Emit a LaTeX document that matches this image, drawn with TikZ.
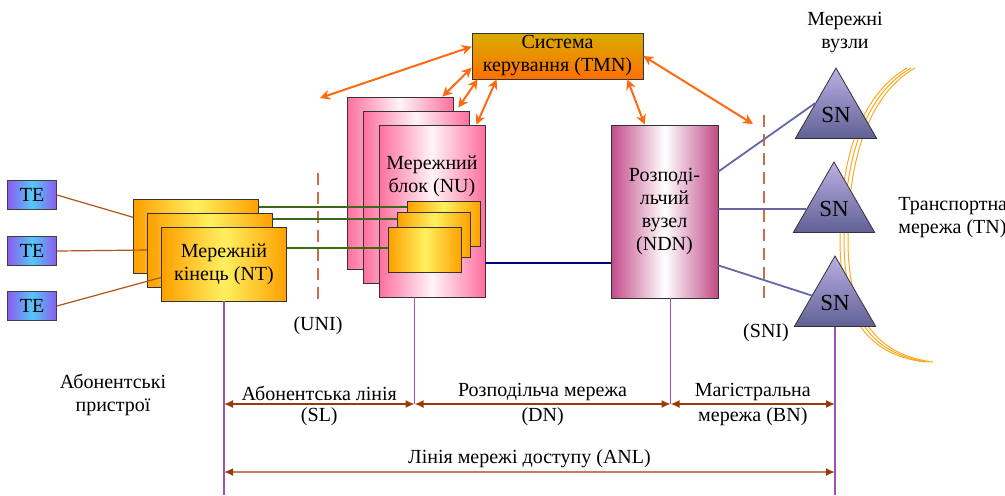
\documentclass[tikz,border=0pt]{standalone}
\usepackage{fontspec}
\setmainfont{Liberation Serif}
\usetikzlibrary{positioning,arrows.meta,calc,shapes.geometric}
\definecolor{tepurple}{HTML}{8B5CF0}
\definecolor{teblue}{HTML}{55C8F8}
\definecolor{ntorange}{HTML}{FFA000}
\definecolor{ntyellow}{HTML}{FFF060}
\definecolor{nupink}{HTML}{FF6FA0}
\definecolor{nulight}{HTML}{FFF4F8}
\definecolor{ndnmag}{HTML}{C24A88}
\definecolor{tmntop}{HTML}{D8AC00}
\definecolor{tmnbot}{HTML}{FF7000}
\definecolor{ctlorange}{HTML}{FF6A10}
\definecolor{snlight}{HTML}{BCB0E4}
\definecolor{sndark}{HTML}{606094}
\definecolor{snline}{HTML}{6666A4}
\definecolor{telink}{HTML}{B0541E}
\definecolor{ntlink}{HTML}{3C6A14}
\definecolor{vline}{HTML}{A050B4}
\definecolor{dimbrown}{HTML}{9A3A08}
\definecolor{anlbrown}{HTML}{C08060}
\definecolor{ifdash}{HTML}{C8704A}
\definecolor{tnorange}{HTML}{FFA820}

\begin{document}
\begin{tikzpicture}[x=0.5pt, y=-0.5pt,
  font=\rmfamily\fontsize{10}{11.5}\selectfont,
  te/.style={draw=black!75, left color=tepurple, right color=tepurple, middle color=teblue, minimum width=24.5pt, minimum height=14.5pt, inner sep=0pt},
  ntbox/.style={draw=black!80, left color=ntorange, right color=ntorange, middle color=ntyellow, minimum width=62.5pt, minimum height=37pt, inner sep=1pt, align=center},
  nubox/.style={draw=black!80, left color=nupink, right color=nupink, middle color=nulight, minimum width=53pt, minimum height=86pt, inner sep=1pt},
  card/.style={draw=black!80, left color=ntorange, right color=ntorange, middle color=ntyellow, minimum width=36.5pt, minimum height=22.5pt, inner sep=0pt},
  ndnbox/.style={draw=black!80, left color=ndnmag, right color=ndnmag, middle color=white, minimum width=53.5pt, minimum height=86.5pt, align=center},
  tmnbox/.style={draw=black!80, top color=tmntop, bottom color=tmnbot, minimum width=85.5pt, minimum height=23pt, inner sep=0pt, align=center},
  snode/.style={regular polygon, regular polygon sides=3, draw=black!80, top color=snlight, bottom color=sndark, minimum size=47pt, inner sep=0pt, font=\rmfamily\fontsize{11.5}{12}\selectfont},
  ctl/.style={{Stealth[length=5pt,width=5pt]}-{Stealth[length=5pt,width=5pt]}, ctlorange, line width=1pt},
  iface/.style={ifdash, line width=0.6pt, dash pattern=on 6pt off 3.5pt},
  dim/.style={{Latex[length=4.5pt,width=4pt]}-{Latex[length=4.5pt,width=4pt]}, dimbrown, line width=0.75pt},
  lbl/.style={inner sep=1.5pt, align=center, text=black}]
  \useasboundingbox (0,0) rectangle (1005,495);
  % transport network arcs
  \foreach \dx in {0pt,2pt,4pt}
    \draw[tnorange, line width=0.5pt, xshift=\dx] (907,68) .. controls (860,95) and (840,160) .. (840,240) .. controls (840,320) and (870,355) .. (925,362);
  % terminals
  \node[te] (te1) at (32,195) {TE};
  \node[te] (te2) at (32,251) {TE};
  \node[te] (te3) at (32,306) {TE};
  % network terminations
  \node[ntbox] (nt1) at (196,236) {};
  \node[ntbox] (nt2) at ($(nt1)+(14,14)$) {};
  \node[ntbox] (nt3) at ($(nt2)+(14,14)$) {Мережній\\кінець (NT)};
  % network unit
  \node[nubox] (nu1) at (400,183) {};
  \node[nubox] (nu2) at ($(nu1)+(16,14)$) {};
  \node[nubox] (nu3) at ($(nu2)+(16,14)$) {};
  \node[lbl, align=center] (nulbl) at (432,176) {Мережний\\блок (NU)};
  \node[card] (c1) at (443.5,224) {};
  \node[card] (c2) at (434,235) {};
  \node[card] (c3) at (425,250) {};
  % distribution node, management, switching nodes
  \node[ndnbox] (ndn) at (664.5,211.5) {Розподі-\\льчий\\вузел\\(NDN)};
  \node[tmnbox] (tmn) at (557.5,56) {Система\\керування (TMN)};
  \node[snode] (sn1) at (836,115) {SN};
  \node[snode] (sn2) at (834,209) {SN};
  \node[snode] (sn3) at (835,303) {SN};
  % texts
  \node[lbl] (snlbl) at (845,33) {Мережні\\вузли};
  \node[lbl, anchor=west, align=left] (tnlbl) at (895,218) {Транспортна\\мережа (TN)};
  \node[lbl] (telbl) at (113,395) {Абонентські\\пристрої};
  \node[lbl] (unilbl) at (318,326) {(UNI)};
  \node[lbl] (snilbl) at (766,333) {(SNI)};
  % interfaces
  \coordinate (uniT) at (318,173);
  \coordinate (uniB) at (318,302);
  \coordinate (sniT) at (764,115);
  \coordinate (sniB) at (764,303);
  \draw[iface] (uniT) -- (uniB);
  \draw[iface] (sniT) -- (sniB);
  % links
  \draw[telink, line width=0.6pt] (te1.east) -- ($(nt1.north west)!0.25!(nt1.south west)$);
  \draw[telink, line width=0.6pt] (te2.east) -- (nt2.west);
  \draw[telink, line width=0.6pt] (te3.east) -- ($(nt3.north west)!0.68!(nt3.south west)$);
  \coordinate (g1) at ($(c1.north west)!0.12!(c1.south west)$);
  \coordinate (g2) at ($(c2.north west)!0.16!(c2.south west)$);
  \coordinate (g3) at ($(c3.north west)!0.46!(c3.south west)$);
  \draw[ntlink, line width=1pt] (g1 -| nt1.east) -- (g1);
  \draw[ntlink, line width=1pt] (g2 -| nt2.east) -- (g2);
  \draw[ntlink, line width=1pt] (g3 -| nt3.east) -- (g3);
  \coordinate (nd) at ($(nu3.north east)!0.8!(nu3.south east)$);
  \draw[blue!50!black, line width=0.9pt] (nd) -- (nd -| ndn.west);
  \draw[snline, line width=0.9pt] ($(ndn.north east)!0.27!(ndn.south east)$) -- (sn1.side 1);
  \draw[snline, line width=0.9pt] (ndn.east |- sn2.west) -- (sn2.west);
  \draw[snline, line width=0.9pt] ($(ndn.north east)!0.81!(ndn.south east)$) -- (sn3);
  % management arrows
  \coordinate (uniarr) at (320,98);
  \coordinate (sniarr) at (753,124);
  \draw[ctl] ($(tmn.north west)!0.3!(tmn.south west)$) -- (uniarr);
  \draw[ctl] ($(tmn.north west)!0.75!(tmn.south west)$) -- ($(nu1.north east)+(-11,0)$);
  \draw[ctl] ($(tmn.south west)+(6,0)$) -- ($(nu2.north east)+(-11,-3)$);
  \draw[ctl] ($(tmn.south west)+(25,0)$) -- ($(nu3.north east)+(-9,0)$);
  \draw[ctl] ($(tmn.south east)+(-16,0)$) -- ($(ndn.north west)+(34,0)$);
  \draw[ctl] ($(tmn.north east)!0.5!(tmn.south east)$) -- (sniarr);
  % section boundaries
  \coordinate (v1) at (nt3.south);
  \coordinate (v2) at ($(nu3.south west)+(36,0)$);
  \coordinate (v3) at ($(ndn.south west)+(60,0)$);
  \coordinate (v4) at (sn3.south);
  \coordinate (dimA) at (0,404);
  \coordinate (dimB) at (0,472);
  \coordinate (bot) at (0,495);
  \draw[vline, line width=0.6pt] (v1) -- (v1 |- bot);
  \draw[vline, line width=0.6pt] (v2) -- (v2 |- dimA);
  \draw[vline, line width=0.6pt] (v3) -- (v3 |- dimA);
  \draw[vline, line width=0.6pt] (v4) -- (v4 |- bot);
  \draw[dim] (v1 |- dimA) -- (v2 |- dimA)
    node[lbl, midway, above] {Абонентська лінія} node[lbl, midway, below] {(SL)};
  \draw[dim] (v2 |- dimA) -- (v3 |- dimA)
    node[lbl, midway, above] {Розподільча мережа} node[lbl, midway, below] {(DN)};
  \draw[dim] (v3 |- dimA) -- (v4 |- dimA)
    node[lbl, midway, above] {Магістральна} node[lbl, midway, below] {мережа (BN)};
  \draw[{Latex[length=4.5pt,width=4pt,color=dimbrown]}-{Latex[length=4.5pt,width=4pt,color=dimbrown]}, anlbrown, line width=1.2pt] (v1 |- dimB) -- (v4 |- dimB)
    node[lbl, midway, above] {Лінія мережі доступу (ANL)};
\end{tikzpicture}
\end{document}
